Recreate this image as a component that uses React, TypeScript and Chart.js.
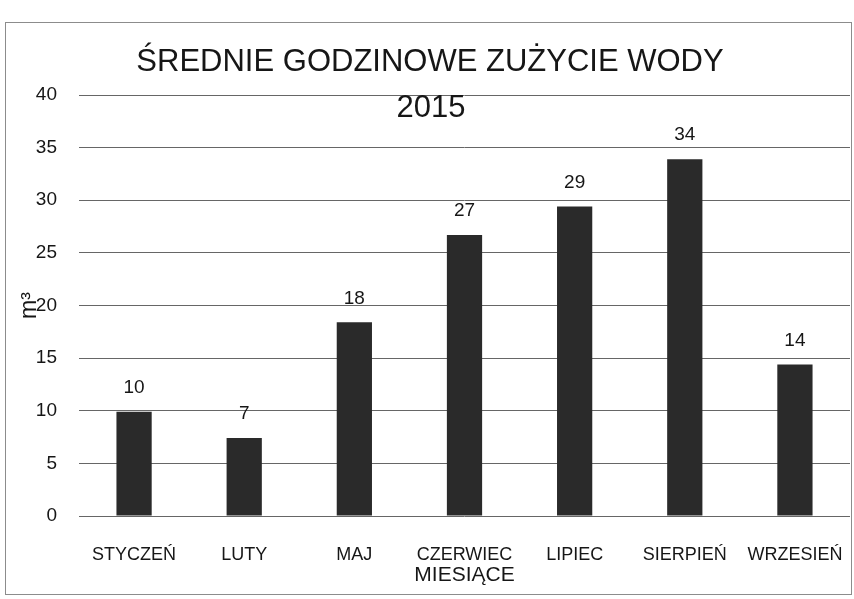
import React, { useEffect, useRef } from 'react';
import { Chart, registerables } from 'chart.js';

Chart.register(...registerables);

const titleLines = ['ŚREDNIE GODZINOWE ZUŻYCIE WODY', '2015'];
const categories = ['STYCZEŃ', 'LUTY', 'MAJ', 'CZERWIEC', 'LIPIEC', 'SIERPIEŃ', 'WRZESIEŃ'];
const values = [9.9, 7.4, 18.4, 26.7, 29.4, 33.9, 14.4];
const valueLabels = ['10', '7', '18', '27', '29', '34', '14'];
const yMin = 0;
const yMax = 40;
const yStep = 5;
const xTitle = 'MIESIĄCE';
const yTitle = 'm³';

const FONT = "'Liberation Sans', Arial, sans-serif";
const TEXT = '#161616';

export default function App() {
  const ref = useRef<HTMLCanvasElement>(null);

  useEffect(() => {
    if (!ref.current) return;

    const framePlugin = {
      id: 'frame',
      beforeDraw(chart: any) {
        const ctx = chart.ctx;
        ctx.save();
        ctx.fillStyle = '#ffffff';
        ctx.fillRect(0, 0, chart.width, chart.height);
        ctx.strokeStyle = '#8c8c8c';
        ctx.lineWidth = 1;
        ctx.strokeRect(5.5, 22.5, 846, 572);
        ctx.restore();
      },
    };

    const labelPlugin = {
      id: 'valueLabels',
      afterDatasetsDraw(chart: any) {
        const ctx = chart.ctx;
        const meta = chart.getDatasetMeta(0);
        ctx.save();
        ctx.font = `19px ${FONT}`;
        ctx.fillStyle = TEXT;
        ctx.textAlign = 'center';
        ctx.textBaseline = 'middle';
        meta.data.forEach((bar: any, i: number) => {
          ctx.fillText(valueLabels[i], bar.x, bar.y - 24);
        });
        ctx.restore();
      },
    };

    const titlePlugin = {
      id: 'titleLines',
      afterDraw(chart: any) {
        const ctx = chart.ctx;
        ctx.save();
        ctx.font = `31px ${FONT}`;
        ctx.fillStyle = TEXT;
        ctx.textAlign = 'center';
        ctx.textBaseline = 'middle';
        ctx.fillText(titleLines[0], 430, 62);
        ctx.fillText(titleLines[1], 431, 108);
        ctx.restore();
      },
    };

    const chart = new Chart(ref.current, {
      type: 'bar',
      data: {
        labels: categories,
        datasets: [
          {
            data: values,
            backgroundColor: '#2a2a2a',
            borderWidth: 0,
            barPercentage: 0.32,
            categoryPercentage: 1,
          },
        ],
      },
      options: {
        responsive: false,
        animation: false,
        devicePixelRatio: 1,
        layout: { padding: { top: 95, right: 4, bottom: 0, left: 0 } },
        plugins: {
          legend: { display: false },
          title: { display: false },
          tooltip: { enabled: false },
        },
        scales: {
          x: {
            grid: {
              display: true,
              drawOnChartArea: false,
              drawTicks: true,
              tickLength: 28,
              tickColor: 'rgba(0,0,0,0)',
            },
            border: { display: false },
            ticks: {
              padding: 0,
              autoSkip: false,
              maxRotation: 0,
              color: TEXT,
              font: { family: FONT, size: 18 },
            },
            title: {
              display: true,
              text: xTitle,
              color: TEXT,
              font: { family: FONT, size: 21 },
              padding: { top: 0, bottom: 11 },
            },
            afterFit(s: any) {
              s.height = 83;
              s.paddingLeft = 0;
              s.paddingRight = 0;
            },
          },
          y: {
            min: yMin,
            max: yMax,
            ticks: {
              stepSize: yStep,
              padding: 22,
              color: TEXT,
              font: { family: FONT, size: 19 },
            },
            grid: { color: '#666666', lineWidth: 1, drawTicks: false },
            border: { display: false },
            title: {
              display: true,
              text: yTitle,
              color: TEXT,
              font: { family: FONT, size: 23 },
              padding: { top: 16, bottom: 0 },
            },
            afterFit(s: any) {
              s.width = 79;
              s.paddingTop = 0;
              s.paddingBottom = 0;
            },
          },
        },
      },
      plugins: [framePlugin, labelPlugin, titlePlugin],
    } as any);

    return () => chart.destroy();
  }, []);

  return (
    <div style={{ position: 'absolute', left: 0, top: 0, width: 854, height: 599, background: '#fff' }}>
      <canvas ref={ref} width={854} height={599} />
    </div>
  );
}
